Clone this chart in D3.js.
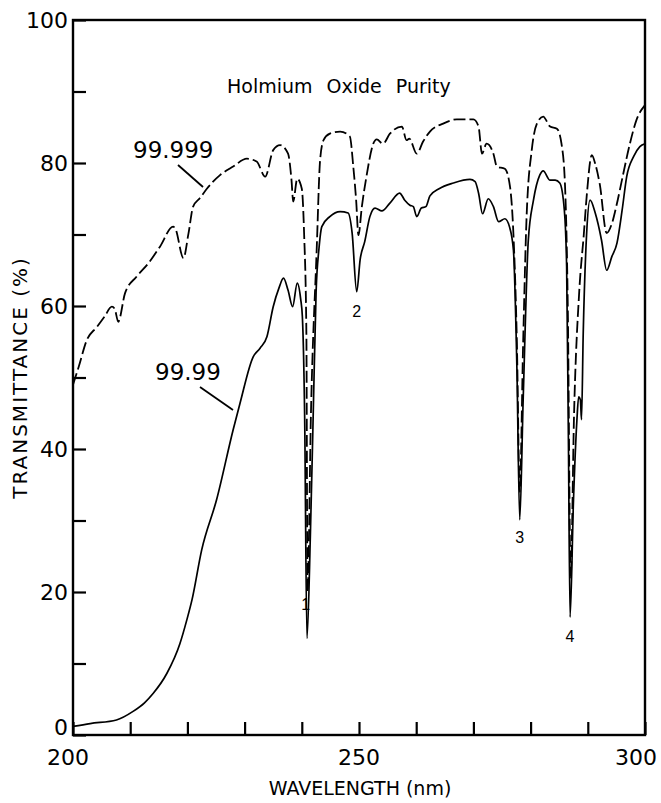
<!DOCTYPE html>
<html>
<head>
<meta charset="utf-8">
<script src="https://cdn.jsdelivr.net/npm/d3@7"></script>
<style>
  body { margin: 0; background: #fff; }
  svg { display: block; }
</style>
</head>
<body>
<svg id="chart" width="661" height="803"></svg>
<script>
// ---- data ----
// 99.999 % purity (dashed)
const wl999 = [200.0, 201.0, 202.4, 204.2, 205.5, 206.8, 207.3, 207.9, 209.1, 211.1, 213.2, 215.2, 217.5, 217.9,
  219.3, 220.2, 221.0, 222.2, 223.4, 225.7, 228.0, 230.4, 232.1, 233.6, 235.0, 236.2, 237.6, 238.2, 238.5, 239.2,
  240.0, 240.4, 240.8, 241.0, 241.6, 242.6, 243.2, 243.8, 244.9, 246.7, 248.4, 249.0, 249.5, 249.9, 250.5, 251.3,
  252.5, 253.1, 254.2, 255.4, 257.5, 258.3, 258.8, 260.1, 261.2, 262.4, 264.7, 267.1, 270.0, 270.9, 271.5, 272.3,
  273.5, 274.1, 275.5, 276.4, 277.0, 277.6, 278.1, 278.7, 279.3, 280.2, 281.1, 282.2, 283.4, 284.6, 285.4, 286.0,
  286.5, 287.0, 287.6, 288.5, 289.3, 289.8, 290.7, 291.3, 292.1, 293.3, 294.2, 295.0, 296.2, 297.3, 298.5, 300.0];
const tr999 = [49.0, 51.5, 55.2, 57.1, 58.5, 59.9, 59.6, 57.8, 61.8, 64.1, 66.0, 68.3, 71.1, 70.8,
  66.7, 70.2, 73.9, 75.1, 76.4, 78.3, 79.5, 80.6, 80.2, 78.1, 81.8, 82.5, 81.3, 77.6, 74.6, 77.8,
  76.4, 70.2, 56.2, 20.0, 45.0, 67.8, 80.4, 83.2, 84.1, 84.4, 83.7, 79.5, 74.8, 69.9, 73.9, 78.1,
  82.7, 83.3, 82.7, 84.1, 85.1, 83.2, 83.4, 81.3, 83.0, 84.4, 85.5, 86.1, 86.1, 85.1, 81.3, 82.7,
  81.3, 79.5, 79.2, 76.7, 70.0, 55.0, 34.0, 55.0, 72.5, 81.8, 85.5, 86.5, 85.1, 84.8, 82.7, 77.2,
  60.0, 22.0, 45.0, 62.0, 70.0, 75.3, 81.1, 79.9, 77.0, 70.2, 71.5, 74.0, 78.5, 82.5, 86.0, 88.1];

// 99.99 % purity (solid)
const wl99 = [200.0, 203.0, 207.6, 210.5, 212.5, 214.0, 216.4, 218.7, 219.9, 220.8, 222.5, 225.1, 228.0, 229.2,
  231.5, 232.7, 233.9, 235.0, 236.0, 236.8, 237.6, 238.4, 239.2, 239.8, 240.1, 240.5, 240.9, 241.5, 242.0, 242.5,
  243.0, 243.5, 244.9, 246.7, 248.1, 248.8, 249.6, 250.2, 251.0, 251.9, 252.8, 254.0, 255.4, 257.1, 258.0, 258.9,
  259.5, 260.1, 260.9, 261.7, 262.4, 264.0, 266.5, 269.4, 270.3, 270.9, 271.6, 272.6, 273.5, 274.4, 275.5, 276.3,
  277.0, 277.6, 278.1, 278.7, 279.6, 280.5, 281.6, 282.2, 283.4, 284.3, 285.1, 285.9, 286.3, 286.6, 286.9, 287.5,
  288.1, 288.4, 288.7, 288.9, 289.2, 289.8, 290.4, 291.3, 292.4, 293.3, 294.2, 295.1, 296.0, 296.8, 298.0, 299.1, 300.0];
const tr99 = [1.2, 1.6, 2.1, 3.3, 4.5, 5.8, 8.6, 12.8, 16.1, 18.9, 25.9, 32.9, 42.7, 46.4,
  52.9, 54.1, 55.7, 59.9, 62.5, 63.9, 62.2, 59.9, 63.2, 61.0, 58.5, 44.5, 13.5, 28.0, 45.0, 62.0,
  68.0, 71.1, 72.5, 73.2, 73.0, 70.2, 62.0, 66.5, 69.0, 72.5, 73.7, 73.3, 74.4, 75.8, 74.8, 74.1,
  73.9, 72.5, 73.7, 73.9, 75.4, 76.4, 77.2, 77.7, 77.4, 75.8, 72.9, 75.0, 73.9, 71.8, 72.2, 71.1,
  67.8, 51.5, 30.1, 46.9, 69.2, 74.8, 78.3, 78.9, 77.6, 77.6, 77.2, 73.4, 65.5, 42.2, 16.5, 32.9,
  44.1, 47.3, 46.9, 44.1, 56.2, 70.2, 74.8, 73.0, 69.2, 65.0, 66.9, 68.8, 73.4, 78.1, 80.9, 82.3, 82.7];

const xTicks = [200, 210, 220, 230, 240, 250, 260, 270, 280, 290, 300];
const xLabels = [200, 250, 300];
const yTicks = [0, 10, 20, 30, 40, 50, 60, 70, 80, 90, 100];
const yLabels = [0, 20, 40, 60, 80, 100];

const peakNames = ["1", "2", "3", "4"];
const peakWl = [240.7, 249.6, 278.1, 286.9];
const peakLabelT = [18.2, 59.2, 27.7, 13.8];

// ---- layout ----
const W = 661, H = 803;
const m = { left: 73, top: 20, right: 16, bottom: 68 };
const font = "'DejaVu Sans', 'Liberation Sans', sans-serif";

const svg = d3.select("#chart");
svg.append("rect").attr("width", W).attr("height", H).attr("fill", "#fff");

const x = d3.scaleLinear().domain([200, 300]).range([m.left, W - m.right]);
const y = d3.scaleLinear().domain([0, 100]).range([H - m.bottom, m.top]);

// frame
svg.append("rect")
  .attr("x", x(200)).attr("y", y(100))
  .attr("width", x(300) - x(200)).attr("height", y(0) - y(100))
  .attr("fill", "none").attr("stroke", "#000").attr("stroke-width", 2.4);

// ticks (inward)
svg.append("g").attr("transform", `translate(0,${y(0)})`)
  .call(d3.axisBottom(x).tickValues(xTicks).tickSizeInner(-13).tickSizeOuter(0).tickFormat(""))
  .call(g => g.select(".domain").remove())
  .call(g => g.selectAll("line").attr("stroke", "#000").attr("stroke-width", 2.2));

svg.append("g").attr("transform", `translate(${x(200)},0)`)
  .call(d3.axisLeft(y).tickValues(yTicks).tickSizeInner(-13).tickSizeOuter(0).tickFormat(""))
  .call(g => g.select(".domain").remove())
  .call(g => g.selectAll("line").attr("stroke", "#000").attr("stroke-width", 2.2));

// tick labels
svg.append("g").selectAll("text").data(xLabels).join("text")
  .attr("x", d => x(d) + (d === 200 ? -5 : d === 300 ? -9 : 0))
  .attr("y", y(0) + 30)
  .attr("text-anchor", "middle")
  .attr("font-family", font).attr("font-size", 22).attr("fill", "#000")
  .text(d => d);

svg.append("g").selectAll("text").data(yLabels).join("text")
  .attr("x", x(200) - 5)
  .attr("y", d => y(d) + 8 - (d === 0 ? 8 : 0))
  .attr("text-anchor", "end")
  .attr("font-family", font).attr("font-size", 22).attr("fill", "#000")
  .text(d => d);

// axis titles
svg.append("text")
  .attr("x", 360).attr("y", H - 8)
  .attr("text-anchor", "middle")
  .attr("font-family", font).attr("font-size", 19).attr("fill", "#000")
  .text("WAVELENGTH (nm)");

svg.append("text")
  .attr("transform", `translate(27,${y(50)}) rotate(-90)`)
  .attr("text-anchor", "middle")
  .attr("font-family", font).attr("font-size", 20).attr("letter-spacing", 2).attr("fill", "#000")
  .text("TRANSMITTANCE (%)");

svg.append("text")
  .attr("x", 227).attr("y", 93)
  .attr("font-family", font).attr("font-size", 19).attr("word-spacing", 8).attr("fill", "#000")
  .text("Holmium Oxide Purity");

// curves
const line = d3.line().x(d => x(d[0])).y(d => y(d[1])).curve(d3.curveMonotoneX);

svg.append("path")
  .datum(d3.zip(wl999, tr999))
  .attr("d", line)
  .attr("fill", "none").attr("stroke", "#000").attr("stroke-width", 1.8)
  .attr("stroke-dasharray", "12,4");

svg.append("path")
  .datum(d3.zip(wl99, tr99))
  .attr("d", line)
  .attr("fill", "none").attr("stroke", "#000").attr("stroke-width", 1.7);

// curve labels with leader lines
svg.append("text").attr("x", 133).attr("y", 158)
  .attr("font-family", font).attr("font-size", 23).attr("fill", "#000").text("99.999");
svg.append("line").attr("x1", 178).attr("y1", 165).attr("x2", 203).attr("y2", 187)
  .attr("stroke", "#000").attr("stroke-width", 1.8);

svg.append("text").attr("x", 155).attr("y", 380)
  .attr("font-family", font).attr("font-size", 23).attr("fill", "#000").text("99.99");
svg.append("line").attr("x1", 200).attr("y1", 387).attr("x2", 233).attr("y2", 410)
  .attr("stroke", "#000").attr("stroke-width", 1.8);

// peak numbers
svg.append("g").selectAll("text").data(peakNames).join("text")
  .attr("x", (d, i) => x(peakWl[i]))
  .attr("y", (d, i) => y(peakLabelT[i]))
  .attr("dy", "0.35em")
  .attr("text-anchor", "middle")
  .attr("font-family", "'Liberation Sans', sans-serif").attr("font-size", 16).attr("fill", "#000")
  .text(d => d);
</script>
</body>
</html>
